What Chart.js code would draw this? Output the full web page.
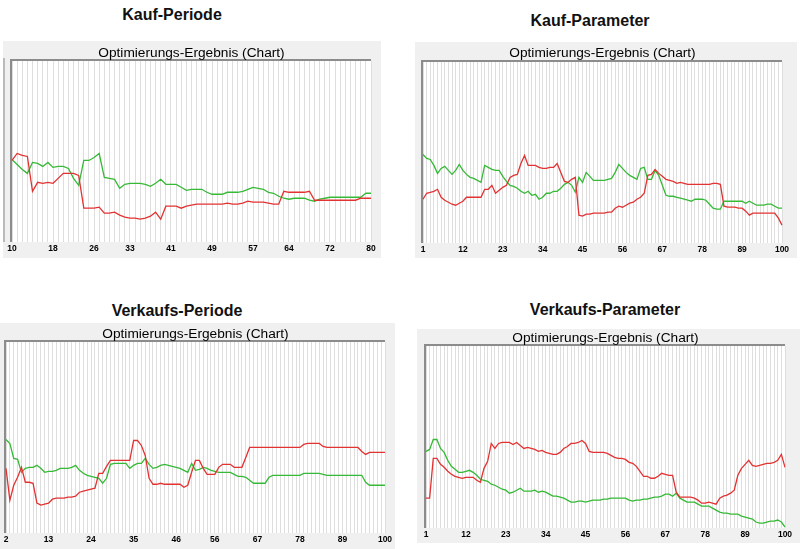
<!DOCTYPE html>
<html>
<head>
<meta charset="utf-8">
<script src="https://cdn.jsdelivr.net/npm/chart.js@4.4.1/dist/chart.umd.min.js"></script>
<style>
html,body{margin:0;padding:0;background:#fff;}
#stage{position:relative;width:800px;height:549px;overflow:hidden;font-family:"Liberation Sans",Arial,sans-serif;}
.panel{position:absolute;}
.panel canvas{position:absolute;left:0;top:0;}
.heading{position:absolute;font-weight:bold;font-size:16px;color:#111;white-space:nowrap;transform:translate(-50%,-50%);line-height:1;}
.sub{position:absolute;font-size:13.7px;color:#000;white-space:nowrap;transform:translate(-50%,-50%);line-height:1;}
</style>
</head>
<body>
<div id="stage"></div>
<script>
// ---------- data (y in arbitrary units) ----------
const chartTitles = ["Kauf-Periode", "Kauf-Parameter", "Verkaufs-Periode", "Verkaufs-Parameter"];
const innerTitle = "Optimierungs-Ergebnis (Chart)";

function range(a, b) { const out = []; for (let v = a; v <= b; v++) out.push(v); return out; }

// Kauf-Periode
const categories1 = range(10, 80);
const tickLabels1 = [10, 18, 26, 33, 41, 49, 57, 64, 72, 80];
const green1 = [83,78,73,69,80,79,76,80,75,76, 76,74,64,57,82,82,85,89,65,64, 63,54,58,59,59,59,58,56,59,63,
  58,58,58,55,52,53,53,53,50,48, 48,48,50,50,50,51,53,55,54,53, 50,49,46,44,43,44,44,44,42,41, 43,44,45,45,45,45,45,45,45,49, 49];
const red1 = [82,89,87,86,51,60,59,60,59,64, 69,69,69,67,34,34,34,35,29,29, 30,27,25,24,24,23,24,26,30,23,
  36,36,36,34,36,37,38,38,38,38, 38,38,39,38,38,39,41,40,40,40, 39,38,38,51,50,50,50,50,51,42, 42,42,42,42,42,42,42,42,44,44, 44];

// Kauf-Parameter
const categories2 = range(1, 100);
const tickLabels2 = [1, 12, 23, 34, 45, 56, 67, 78, 89, 100];
const green2 = [89,85,84,78,70,75,77,73,69,73, 79,73,69,66,65,63,61,78,76,74, 73,73,67,62,58,57,55,52,50,52,
  48,49,44,46,50,50,52,52,55,59, 61,58,51,66,61,71,67,63,63,63, 63,64,65,71,79,75,71,68,66,64,
  75,76,64,64,73,68,58,48,47,47, 46,45,44,43,42,44,44,44,43,39, 35,34,34,42,42,42,42,42,42,40, 42,40,38,38,38,39,39,37,35,35];
const red2 = [44,50,51,52,54,46,43,41,39,38, 40,42,46,46,46,46,46,54,54,58, 50,53,56,58,66,68,69,80,88,78,
  78,78,76,75,75,76,76,80,71,62, 61,64,66,28,27,29,29,30,30,30, 30,31,31,35,37,36,38,40,41,44,
  46,50,68,69,74,70,67,64,63,62, 60,61,60,59,59,59,59,59,59,59, 60,60,59,37,36,36,36,35,35,32, 28,30,30,30,30,30,30,30,25,18];

// Verkaufs-Periode
const categories3 = range(2, 100);
const tickLabels3 = [2, 13, 24, 35, 46, 56, 67, 78, 89, 100];
const green3 = [94,90,75,74,61,65,66,66,68,65, 61,62,62,63,65,65,65,66,68,63, 60,58,57,56,55,50,55,69,70,70,
  70,70,65,68,70,70,75,69,65,66, 68,69,68,67,66,65,63,61,70,63, 64,66,65,63,62,61,61,61,61,59,
  57,57,56,53,50,50,50,50,56,58, 58,58,58,58,58,58,58,60,60,60, 60,60,59,58,58,58,58,58,58,58, 58,58,58,51,48,48,48,48,48];
const red3 = [65,33,48,56,66,51,51,50,30,28, 29,30,34,35,35,35,36,36,37,41, 42,43,44,45,60,60,67,73,73,73,
  73,73,73,93,93,88,78,55,49,49, 50,49,49,49,49,49,46,48,61,73, 73,65,59,59,59,66,69,69,69,66,
  66,66,76,86,86,86,86,86,86,86, 86,86,86,86,86,86,86,89,90,90, 90,90,87,86,86,86,86,86,86,86, 86,86,82,79,81,81,81,81,81];

// Verkaufs-Parameter
const categories4 = range(1, 100);
const tickLabels4 = [1, 12, 23, 34, 45, 56, 67, 78, 89, 100];
const green4 = [77,79,89,89,80,76,68,62,59,56, 56,57,58,56,53,49,48,47,44,43, 41,39,38,35,36,38,40,37,37,37,
  38,36,37,36,34,32,32,31,30,28, 26,26,27,27,26,27,28,28,28,29, 29,30,30,30,30,30,28,27,28,28,
  29,29,30,31,31,32,34,34,32,35, 30,28,26,26,26,24,22,22,22,20, 18,16,15,15,14,14,14,12,11,10, 9,6,5,5,6,7,7,8,6,1];
const red4 = [30,30,70,70,64,61,57,54,52,51, 50,51,51,51,48,46,60,67,85,80, 85,86,86,86,84,86,83,80,81,80,
  79,77,78,76,75,74,74,76,80,82, 85,85,86,88,85,77,76,76,76,76, 75,73,71,70,70,69,66,65,62,57,
  52,52,50,50,52,55,54,53,53,36, 31,31,31,31,30,28,25,25,26,25, 24,30,32,33,35,38,53,60,64,68, 63,62,63,64,65,65,66,68,74,61];

// ---------- styling / layout ----------
const GREEN = '#36b936';
const RED = '#e23232';
const FONT = '"Liberation Sans", Arial, sans-serif';

const specs = [
  { title: chartTitles[0], head: [172, 15], subY: 53, panel: {x: 3, y: 41, w: 378, h: 217}, plot: {l: 12, t: 61, r: 371, b: 242},
    categories: categories1, ticks: tickLabels1, green: green1, red: red1, yMax: 182, edge: [4, 58, 242] },
  { title: chartTitles[1], head: [590, 21], subY: 53, panel: {x: 415, y: 42, w: 382, h: 216}, plot: {l: 423, t: 62, r: 782, b: 243},
    categories: categories2, ticks: tickLabels2, green: green2, red: red2, yMax: 182 },
  { title: chartTitles[2], head: [177, 311], subY: 334, panel: {x: 0, y: 323, w: 395, h: 226}, plot: {l: 6, t: 342, r: 385, b: 533},
    categories: categories3, ticks: tickLabels3, green: green3, red: red3, yMax: 192 },
  { title: chartTitles[3], head: [605, 310], subY: 338, panel: {x: 417, y: 329, w: 383, h: 214}, plot: {l: 426, t: 346, r: 785, b: 528},
    categories: categories4, ticks: tickLabels4, green: green4, red: red4, yMax: 183 }
];

const framePlugin = {
  id: 'frame',
  beforeDraw(chart, args, opts) {
    const ctx = chart.ctx, ca = chart.chartArea;
    ctx.save();
    ctx.fillStyle = '#f0f0f0';
    ctx.fillRect(0, 0, chart.width, chart.height);
    ctx.fillStyle = '#ffffff';
    ctx.fillRect(ca.left, ca.top, ca.right - ca.left, ca.bottom - ca.top);
    if (opts.edge) {
      ctx.strokeStyle = '#a9a9a9';
      ctx.lineWidth = 1.5;
      ctx.beginPath();
      ctx.moveTo(opts.edge[0], opts.edge[1]);
      ctx.lineTo(opts.edge[0], opts.edge[2]);
      ctx.stroke();
    }
    ctx.restore();
  },
  beforeDatasetsDraw(chart) {
    const ctx = chart.ctx, ca = chart.chartArea;
    ctx.save();
    ctx.strokeStyle = '#8c8c8c';
    ctx.lineWidth = 2;
    ctx.beginPath();
    ctx.moveTo(ca.left - 1, ca.bottom);
    ctx.lineTo(ca.left - 1, ca.top - 1);
    ctx.lineTo(ca.right, ca.top - 1);
    ctx.stroke();
    ctx.restore();
  }
};

const stage = document.getElementById('stage');

specs.forEach(s => {
  const p = s.panel, a = s.plot;
  const div = document.createElement('div');
  div.className = 'panel';
  div.style.left = p.x + 'px'; div.style.top = p.y + 'px';
  div.style.width = p.w + 'px'; div.style.height = p.h + 'px';
  const cv = document.createElement('canvas');
  cv.width = p.w; cv.height = p.h;
  cv.style.width = p.w + 'px'; cv.style.height = p.h + 'px';
  div.appendChild(cv);
  stage.appendChild(div);

  const h = document.createElement('div');
  h.className = 'heading';
  h.textContent = s.title;
  h.style.left = s.head[0] + 'px'; h.style.top = s.head[1] + 'px';
  stage.appendChild(h);

  const sub = document.createElement('div');
  sub.className = 'sub';
  sub.textContent = innerTitle;
  sub.style.left = ((a.l + a.r) / 2) + 'px'; sub.style.top = s.subY + 'px';
  stage.appendChild(sub);

  new Chart(cv, {
    type: 'line',
    data: {
      labels: s.categories,
      datasets: [
        { label: 'Rot', data: s.red, borderColor: RED, backgroundColor: RED, borderWidth: 1.3, pointRadius: 0, tension: 0, fill: false },
        { label: 'Grün', data: s.green, borderColor: GREEN, backgroundColor: GREEN, borderWidth: 1.3, pointRadius: 0, tension: 0, fill: false }
      ]
    },
    options: {
      responsive: false,
      animation: false,
      devicePixelRatio: 1,
      layout: { padding: { left: a.l - p.x, top: a.t - p.y, right: p.x + p.w - a.r, bottom: 0 } },
      plugins: {
        legend: { display: false },
        tooltip: { enabled: false },
        title: { display: false },
        frame: { edge: s.edge ? [s.edge[0] - p.x, s.edge[1] - p.y, s.edge[2] - p.y] : null }
      },
      scales: {
        x: {
          type: 'category',
          offset: false,
          grid: { color: '#dedede', lineWidth: 1, drawTicks: false, offset: false },
          border: { display: false },
          ticks: {
            autoSkip: false, maxRotation: 0, minRotation: 0, padding: 2,
            color: '#000', font: { size: 8.5, family: FONT, weight: 'bold' },
            callback: function (v) {
              const lab = this.getLabelForValue(v);
              return s.ticks.includes(Number(lab)) ? String(lab) : '';
            }
          },
          afterFit: function (scale) { scale.height = p.y + p.h - a.b; }
        },
        y: { display: false, min: 0, max: s.yMax }
      }
    },
    plugins: [framePlugin]
  });
});
</script>
</body>
</html>
